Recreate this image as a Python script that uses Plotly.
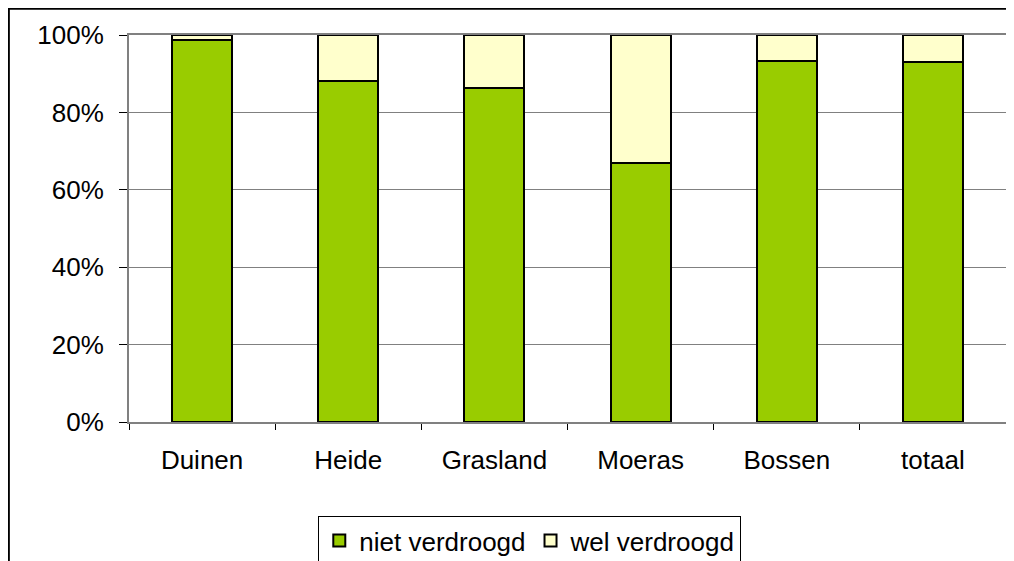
import plotly.graph_objects as go

categories = ["Duinen", "Heide", "Grasland", "Moeras", "Bossen", "totaal"]
niet_verdroogd = [98.8, 88.0, 86.4, 67.0, 93.4, 93.0]
wel_verdroogd = [100 - v for v in niet_verdroogd]

FONT = "Liberation Sans, Arial, sans-serif"

fig = go.Figure()
fig.add_trace(go.Bar(
    x=categories, y=niet_verdroogd, name="niet verdroogd",
    marker=dict(color="#99CC00", line=dict(color="black", width=2)),
))
fig.add_trace(go.Bar(
    x=categories, y=wel_verdroogd, name="wel verdroogd",
    marker=dict(color="#FFFFCC", line=dict(color="black", width=2)),
))

# the page body adds 8px around the figure
fig.update_layout(
    barmode="stack",
    bargap=0.59,
    width=1006, height=553,
    margin=dict(l=121, r=8, t=27, b=139, autoexpand=False),
    paper_bgcolor="white", plot_bgcolor="white",
    font=dict(family=FONT, size=26, color="black"),
    legend=dict(
        orientation="h", x=0.457, xanchor="center", y=-0.243, yanchor="top",
        bordercolor="black", borderwidth=1, font=dict(size=26),
        itemwidth=30, traceorder="normal",
    ),
    shapes=[
        dict(type="rect", xref="paper", yref="paper",
             x0=-0.137, x1=1.05, y0=-0.6, y1=1.068,
             line=dict(color="black", width=2), layer="below"),
    ],
)
fig.update_xaxes(
    automargin=False,
    showline=True, linecolor="#808080", linewidth=2, mirror=True,
    ticks="outside", tickson="boundaries", ticklen=6, tickcolor="black",
    ticklabelstandoff=14, showgrid=False,
)
fig.update_yaxes(
    automargin=False,
    range=[0, 100], dtick=20, ticksuffix="%",
    showline=True, linecolor="#808080", linewidth=2, mirror=True,
    showgrid=True, gridcolor="#808080", gridwidth=1,
    ticks="outside", ticklen=8, tickcolor="black", ticklabelstandoff=10,
    zeroline=False,
)

fig.write_html("out.html")
